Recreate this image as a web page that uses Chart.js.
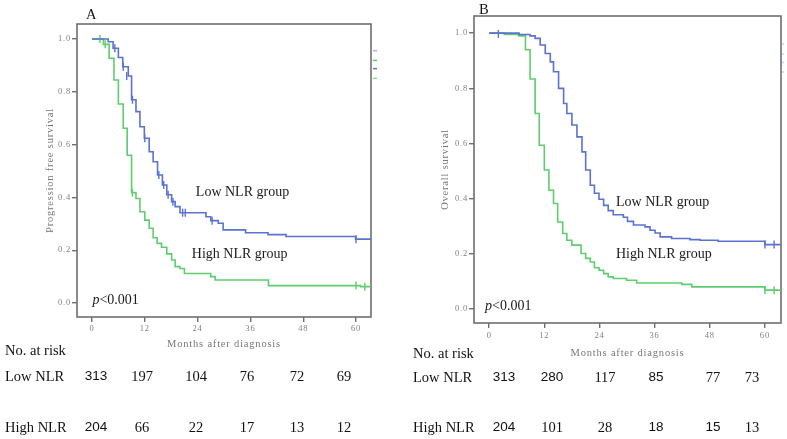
<!DOCTYPE html>
<html>
<head>
<meta charset="utf-8">
<script src="https://cdn.jsdelivr.net/npm/chart.js@4.4.1/dist/chart.umd.min.js"></script>
<style>
html,body{margin:0;padding:0;background:#fff;}
body{width:787px;height:439px;position:relative;overflow:hidden;font-family:"Liberation Serif","Times New Roman",serif;color:#111;}
canvas{position:absolute;top:0;}
#cA{left:0;}
#cB{left:395px;}
.t{position:absolute;font-size:14.5px;line-height:1;white-space:nowrap;transform:translateY(-50%);}
.c{transform:translate(-50%,-50%);}
.sans{font-family:"Liberation Sans",Arial,sans-serif;font-size:13.5px;}
</style>
</head>
<body>
<canvas id="cA" width="395" height="360"></canvas>
<canvas id="cB" width="392" height="365"></canvas>
<div id="txt"></div>
<script>
// ---- data ----
const xTicks = [0, 12, 24, 36, 48, 60];
const yTicks = [0, 0.2, 0.4, 0.6, 0.8, 1.0];

// A: progression free survival
const aLowT  = [0, 3.7, 4.8, 6.0, 7.0, 8.25, 9.0, 10.0, 10.9, 11.9, 13.0, 13.9, 14.9, 16.0, 17.0, 18.1, 18.9, 20.0, 25.9, 27.0, 28.7, 29.8, 34.9, 40.0, 44.1, 59.9, 63.4];
const aLowS  = [1.0, 0.99, 0.965, 0.93, 0.895, 0.86, 0.77, 0.725, 0.668, 0.624, 0.573, 0.535, 0.485, 0.447, 0.41, 0.384, 0.365, 0.342, 0.327, 0.312, 0.302, 0.277, 0.266, 0.259, 0.252, 0.242, 0.242];
const aHighT = [0, 2.6, 3.9, 5.0, 6.0, 7.1, 8.0, 9.0, 10.0, 10.9, 12.0, 13.0, 13.9, 14.8, 15.8, 17.0, 18.1, 18.9, 20.0, 21.0, 27.0, 28.0, 40.1, 61.0, 63.4];
const aHighS = [1.0, 0.98, 0.927, 0.845, 0.754, 0.662, 0.56, 0.418, 0.396, 0.346, 0.314, 0.283, 0.247, 0.226, 0.211, 0.186, 0.163, 0.138, 0.131, 0.112, 0.1, 0.087, 0.066, 0.062, 0.062];
const aLowCensT  = [5.2, 7.1, 7.9, 9.2, 12.0, 15.2, 16.3, 17.3, 18.4, 20.6, 21.2, 27.3, 60.0];
const aLowCensS  = [0.965, 0.895, 0.86, 0.77, 0.624, 0.485, 0.447, 0.41, 0.384, 0.342, 0.342, 0.312, 0.242];
const aHighCensT = [1.8, 3.0, 9.2, 60.0, 62.0];
const aHighCensS = [1.0, 0.98, 0.418, 0.066, 0.062];

// B: overall survival
const bLowT  = [0, 6.5, 8.9, 10, 11.1, 12.2, 13.3, 14, 15.1, 16.2, 16.9, 18, 19.1, 20.2, 21, 22, 22.9, 23.9, 24.9, 25.9, 27, 29.2, 30.1, 31.4, 33.9, 35, 36.1, 37.2, 39.7, 43.7, 45.9, 49.8, 60, 63.5];
const bLowS  = [1.0, 0.995, 0.99, 0.981, 0.957, 0.926, 0.896, 0.86, 0.8, 0.745, 0.709, 0.667, 0.624, 0.57, 0.504, 0.449, 0.42, 0.398, 0.376, 0.357, 0.342, 0.333, 0.318, 0.305, 0.298, 0.286, 0.276, 0.262, 0.256, 0.252, 0.25, 0.246, 0.234, 0.234];
const bHighT = [0, 3.3, 6.4, 7.9, 8.9, 10, 10.9, 12, 13, 14, 14.9, 16, 16.9, 18, 20, 21, 22, 22.9, 23.9, 24.9, 25.9, 27, 29.9, 32.1, 41.9, 44.1, 60, 63.5];
const bHighS = [1.0, 0.995, 0.99, 0.94, 0.834, 0.709, 0.594, 0.504, 0.431, 0.383, 0.316, 0.274, 0.25, 0.232, 0.202, 0.184, 0.171, 0.15, 0.141, 0.129, 0.117, 0.111, 0.105, 0.095, 0.09, 0.081, 0.069, 0.069];
const bLowCensT  = [2.0, 60.0, 62.0];
const bLowCensS  = [0.997, 0.234, 0.234];
const bHighCensT = [60.0, 62.0];
const bHighCensS = [0.069, 0.069];

// numbers at risk
const riskA_low  = [313, 197, 104, 76, 72, 69];
const riskA_high = [204, 66, 22, 17, 13, 12];
const riskB_low  = [313, 280, 117, 85, 77, 73];
const riskB_high = [204, 101, 28, 18, 15, 13];

// ---- styling ----
const SERIF = '"Liberation Serif","Times New Roman",serif';
const BLUE = '#5b72d2', GREEN = '#5fcd6d', AXIS = '#6f6f6f';

const pts = (t, s) => t.map((x, i) => ({x, y: s[i]}));

function curve(t, s, color){
  return {data: pts(t, s), showLine: true, stepped: true, borderColor: color, borderWidth: 1.6,
          pointRadius: 0, fill: false};
}
function cens(t, s, color){
  return {data: pts(t, s), showLine: false, pointStyle: 'line', rotation: 90, pointRadius: 4,
          borderColor: color, pointBorderColor: color, pointBorderWidth: 1.4};
}

const deco = {
  id: 'deco',
  beforeDraw(c){ c.ctx.letterSpacing = '0.8px'; },
  beforeDatasetsDraw(c){
    const a = c.chartArea, ctx = c.ctx, o = c.options.plugins.deco;
    ctx.save();
    ctx.letterSpacing = '0.8px';
    ctx.strokeStyle = AXIS; ctx.lineWidth = 1.6;
    ctx.strokeRect(a.left, a.top, a.right - a.left, a.bottom - a.top);
    // axis titles
    ctx.fillStyle = '#777';
    ctx.font = '10.5px ' + SERIF;
    ctx.textAlign = 'center'; ctx.textBaseline = 'middle';
    ctx.fillText(o.xTitle, (a.left + a.right) / 2, o.xTitleY);
    ctx.translate(o.yTitleX, (a.top + a.bottom) / 2);
    ctx.rotate(-Math.PI / 2);
    ctx.fillText(o.yTitle, 0, 0);
    ctx.restore();
    c.ctx.letterSpacing = '0px';
    // stubs of the clipped legend on the right edge
    const ys = c.scales.y;
    ctx.save();
    o.stubs.forEach(st => {
      ctx.strokeStyle = st.c; ctx.lineWidth = 1.5;
      ctx.beginPath();
      ctx.moveTo(a.right + o.stubOff, ys.getPixelForValue(st.s));
      ctx.lineTo(a.right + o.stubOff + o.stubLen, ys.getPixelForValue(st.s));
      ctx.stroke();
    });
    ctx.restore();
  },
  afterDatasetsDraw(c){
    const ctx = c.ctx, o = c.options.plugins.deco, xs = c.scales.x, ys = c.scales.y;
    ctx.save();
    ctx.fillStyle = '#1a1a1a';
    ctx.textAlign = 'left'; ctx.textBaseline = 'middle';
    o.labels.forEach(l => {
      ctx.font = '14px ' + SERIF;
      ctx.fillText(l.text, xs.getPixelForValue(l.x), ys.getPixelForValue(l.y));
    });
    const px = xs.getPixelForValue(o.p.x), py = ys.getPixelForValue(o.p.y);
    ctx.font = 'italic 14px ' + SERIF;
    ctx.fillText('p', px, py);
    const w = ctx.measureText('p').width;
    ctx.font = '14px ' + SERIF;
    ctx.fillText('<0.001', px + w, py);
    ctx.restore();
  }
};

function makeChart(id, g){
  return new Chart(document.getElementById(id), {
    type: 'scatter',
    data: {datasets: g.datasets},
    plugins: [deco],
    options: {
      responsive: false, animation: false,
      layout: {padding: {top: g.top, right: g.right, left: 0, bottom: 0}},
      plugins: {
        legend: {display: false}, tooltip: {enabled: false},
        deco: g.deco
      },
      scales: {
        x: {
          type: 'linear', min: g.xMin, max: g.xMax,
          afterBuildTicks: s => { s.ticks = xTicks.map(v => ({value: v})); },
          afterFit: s => { s.height = g.xH; },
          ticks: {font: {family: SERIF, size: 8.5}, color: '#808080', padding: g.xPad, maxRotation: 0, autoSkip: false},
          grid: {drawOnChartArea: false, drawTicks: true, tickLength: 5, color: AXIS, lineWidth: 1.4},
          border: {display: false}
        },
        y: {
          type: 'linear', min: g.yMin, max: g.yMax,
          afterBuildTicks: s => { s.ticks = yTicks.map(v => ({value: v})); },
          afterFit: s => { s.width = g.yW; },
          ticks: {font: {family: SERIF, size: 8.5}, color: '#808080', padding: 1, callback: v => v.toFixed(1)},
          grid: {drawOnChartArea: false, drawTicks: true, tickLength: 5, color: AXIS, lineWidth: 1.4},
          border: {display: false}
        }
      }
    }
  });
}

makeChart('cA', {
  top: 24, right: 24, xH: 43, yW: 77, xPad: 2,
  xMin: -3.4, xMax: 63.4, yMin: -0.053, yMax: 1.057,
  datasets: [curve(aLowT, aLowS, BLUE), curve(aHighT, aHighS, GREEN),
             cens(aLowCensT, aLowCensS, BLUE), cens(aHighCensT, aHighCensS, GREEN)],
  deco: {
    xTitle: 'Months after diagnosis', xTitleY: 344,
    yTitle: 'Progression free survival', yTitleX: 50,
    labels: [{text: 'Low NLR group', x: 23.6, y: 0.42}, {text: 'High NLR group', x: 22.7, y: 0.186}],
    p: {x: 0.1, y: 0.011},
    stubOff: 2, stubLen: 4,
    stubs: [{s: 0.956, c: '#a9b5e8'}, {s: 0.919, c: GREEN}, {s: 0.888, c: BLUE}, {s: 0.851, c: '#8edb97'}]
  }
});

makeChart('cB', {
  top: 16, right: 6, xH: 42, yW: 79, xPad: 3,
  xMin: -3.3, xMax: 63.5, yMin: -0.05, yMax: 1.062,
  datasets: [curve(bLowT, bLowS, BLUE), curve(bHighT, bHighS, GREEN),
             cens(bLowCensT, bLowCensS, BLUE), cens(bHighCensT, bHighCensS, GREEN)],
  deco: {
    xTitle: 'Months after diagnosis', xTitleY: 353,
    yTitle: 'Overall survival', yTitleX: 50,
    labels: [{text: 'Low NLR group', x: 27.6, y: 0.388}, {text: 'High NLR group', x: 27.6, y: 0.2}],
    p: {x: -0.9, y: 0.011},
    stubOff: 1, stubLen: 2,
    stubs: [{s: 0.961, c: '#c8d0f0'}, {s: 0.924, c: '#b5e8bb'}, {s: 0.894, c: '#c8d0f0'}, {s: 0.859, c: '#b5e8bb'}]
  }
});

// ---- panel letters and numbers at risk ----
const box = document.getElementById('txt');
function put(text, x, y, cls){
  const d = document.createElement('div');
  d.className = 't ' + (cls || '');
  d.textContent = text;
  d.style.left = x + 'px'; d.style.top = y + 'px';
  box.appendChild(d);
}
put('A', 86, 14, 'letter');
put('B', 479, 9, 'letter');

const colA = [96, 142, 196, 247, 297, 344];
const colB = [504, 552, 605, 656, 713, 752];
const sansA_low  = [1, 0, 0, 0, 0, 0], sansA_high = [1, 0, 0, 0, 0, 0];
const sansB_low  = [1, 1, 0, 1, 0, 0], sansB_high = [1, 0, 0, 1, 1, 0];

function table(left, cols, yHead, yLow, yHigh, low, high, sLow, sHigh){
  put('No. at risk', left, yHead);
  put('Low NLR', left, yLow);
  put('High NLR', left, yHigh);
  low.forEach((v, i) => put(String(v), cols[i], yLow, 'c' + (sLow[i] ? ' sans' : '')));
  high.forEach((v, i) => put(String(v), cols[i], yHigh, 'c' + (sHigh[i] ? ' sans' : '')));
}
table(5, colA, 350, 376, 427, riskA_low, riskA_high, sansA_low, sansA_high);
table(413, colB, 353, 377, 427, riskB_low, riskB_high, sansB_low, sansB_high);
</script>
</body>
</html>
